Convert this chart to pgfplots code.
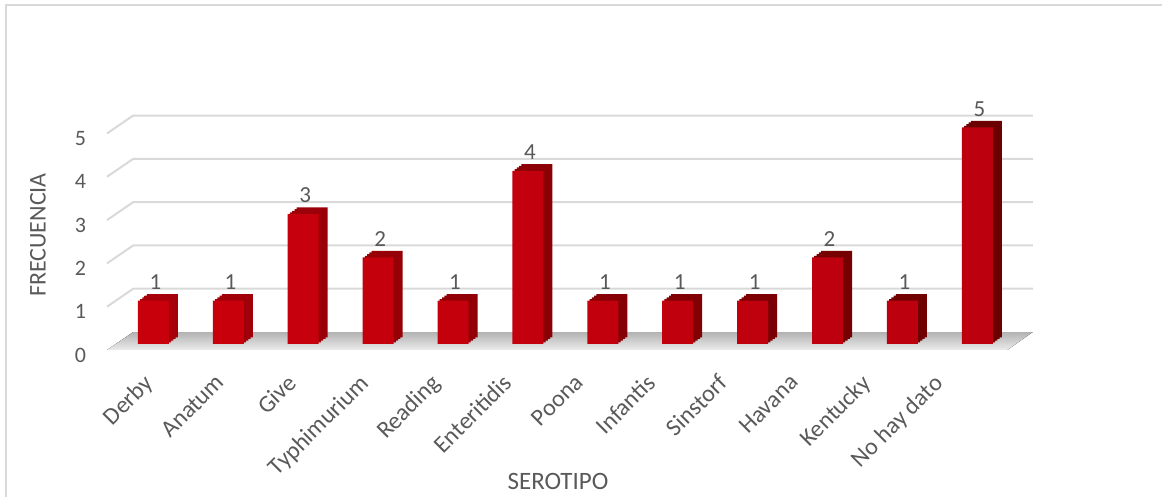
\documentclass[border=0pt]{standalone}
\usepackage{fontspec}
\setmainfont{Carlito}
\usepackage{pgfplots}
\pgfplotsset{compat=1.18}
\usepackage{pgfplotstable}
\definecolor{txt}{HTML}{595959}
\definecolor{gridc}{HTML}{D9D9D9}
\definecolor{redL}{HTML}{C8000C}
\definecolor{redM}{HTML}{E6000F}
\definecolor{redR}{HTML}{BC000E}
\definecolor{topL}{HTML}{A8000A}
\definecolor{sideR}{HTML}{6A0000}
\pgfplotstableread{
i v
0 1
1 1
2 3
3 2
4 1
5 4
6 1
7 1
8 1
9 2
10 1
11 5
}\datatable
\pgfplotsset{backbar/.style={ybar, bar width=15.5pt, draw=none, left color=topL, right color=sideR}}
\begin{document}
\begin{tikzpicture}
\draw[gridc, line width=1pt] (2.75pt,0) -- (2.75pt,245.75pt) -- (581pt,245.75pt);
\begin{axis}[
  at={(53.5pt,73.5pt)}, anchor=south west,
  x=37.45pt, y=21.65pt,
  xmin=-0.62, xmax=11.74, ymin=0, ymax=5.8,
  set layers, clip=false,
  axis line style={draw=none},
  major tick length=0pt,
  ytick={0,1,2,3,4,5},
  yticklabel style={font=\fontsize{11}{13}\selectfont, text=txt, xshift=-7pt, yshift=-2.5pt},
  /pgf/number format/assume math mode=true,
  xtick={0,0.959,1.917,2.876,3.835,4.794,5.752,6.711,7.670,8.628,9.587,10.546},
  xticklabels={Derby,Anatum,Give,Typhimurium,Reading,Enteritidis,Poona,Infantis,Sinstorf,Havana,Kentucky,No hay dato},
  xticklabel style={font=\fontsize{12}{14}\selectfont, text=txt, yshift=-10.5pt, xshift=-5.5pt, rotate=45, anchor=north east, inner sep=0.5pt},
]
\begin{pgfonlayer}{axis background}
\fill[top color=gray!60, bottom color=gray!15] (axis cs:-0.62,0) -- (axis cs:11.40,0) -- (axis cs:11.74,0.415) -- (axis cs:-0.27,0.415) -- cycle;
\draw[gridc, line width=1pt] (axis cs:-0.62,1) -- (axis cs:-0.27,1.415) -- (axis cs:11.74,1.415);
\draw[gridc, line width=1pt] (axis cs:-0.62,2) -- (axis cs:-0.27,2.415) -- (axis cs:11.74,2.415);
\draw[gridc, line width=1pt] (axis cs:-0.62,3) -- (axis cs:-0.27,3.415) -- (axis cs:11.74,3.415);
\draw[gridc, line width=1pt] (axis cs:-0.62,4) -- (axis cs:-0.27,4.415) -- (axis cs:11.74,4.415);
\draw[gridc, line width=1pt] (axis cs:-0.62,5) -- (axis cs:-0.27,5.415) -- (axis cs:11.74,5.415);
\end{pgfonlayer}
\addplot[backbar, bar shift=4.5pt, yshift=6.3pt] table[x=i,y=v] {\datatable};
\addplot[backbar, bar shift=3.4pt, yshift=5.5pt] table[x=i,y=v] {\datatable};
\addplot[backbar, bar shift=2.25pt, yshift=4.65pt] table[x=i,y=v] {\datatable};
\addplot[backbar, bar shift=1.1pt, yshift=3.8pt] table[x=i,y=v] {\datatable};
\addplot[ybar, bar width=15.5pt, bar shift=0pt, draw=none, left color=redL, middle color=redM, right color=redR, yshift=3pt] table[x=i,y=v] {\datatable};
\addplot[draw=none, mark=none, nodes near coords, nodes near coords align={above},
  every node near coord/.append style={font=\fontsize{11.5}{13}\selectfont, text=txt, yshift=5pt, xshift=1pt}] table[x=i,y=v] {\datatable};
\end{axis}
\node[font=\fontsize{12}{14}\selectfont, text=txt, rotate=90] at (19pt,131pt) {FRECUENCIA};
\node[font=\fontsize{12.5}{14}\selectfont, text=txt] at (279pt,8pt) {SEROTIPO};
\pgfresetboundingbox
\path[use as bounding box] (0,0) rectangle (581pt,248.5pt);
\end{tikzpicture}
\end{document}
